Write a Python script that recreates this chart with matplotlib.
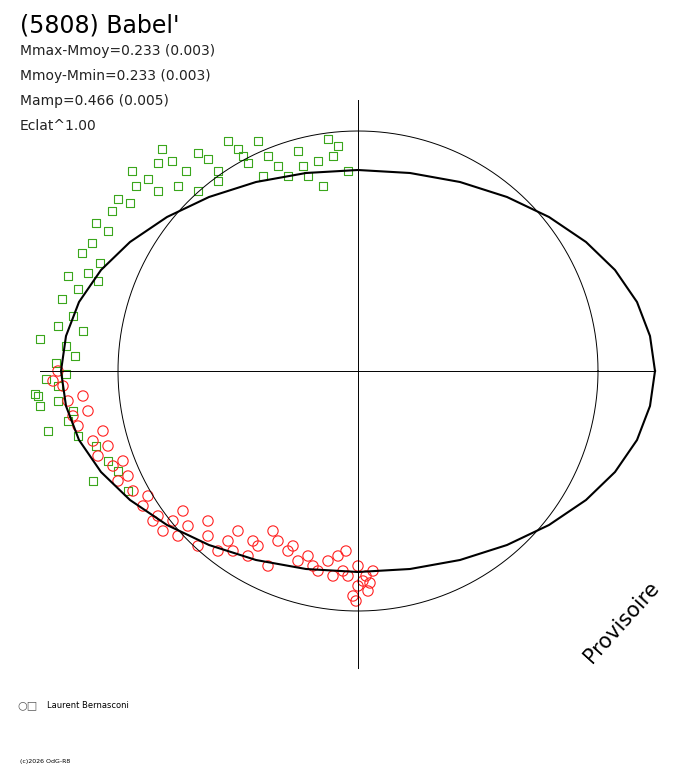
import matplotlib
matplotlib.use("Agg")
import matplotlib.pyplot as plt
import numpy as np

# units: reference circle radius = 240, origin at centre, y up
circle_r = 240
curve_x = [297,292,279,257,228,191,149,102,52,0,-52,-102,-149,-191,-228,-257,-279,-292,
           -297,-292,-279,-257,-228,-191,-149,-102,-52,0,52,102,149,191,228,257,279,292,297]
curve_y = [0,35,69,101,129,154,174,189,198,201,198,189,174,154,129,101,69,35,
           0,-35,-69,-101,-129,-154,-174,-189,-198,-201,-198,-189,-174,-154,-129,-101,-69,-35,0]
green_x = [-318,-323,-300,-312,-292,-302,-283,-318,-292,-300,-285,-275,-296,-280,-290,-270,-276,-266,-258,-262,-250,-246,-240,-228,-222,-226,-210,-200,-196,-186,-172,-160,-150,-140,-130,-120,-110,-100,-90,-80,-60,-50,-40,-30,-20,-10,-35,-70,-140,-160,-180,-200,-260,-320,-310,-290,-280,-262,-250,-265,-240,-230,-285,-300,-25,-55,-95,-115]
green_y = [-35,-23,-15,-8,-3,8,15,32,25,45,55,40,72,82,95,98,118,128,108,148,140,160,172,168,185,200,192,208,222,210,200,218,212,200,230,222,208,230,215,205,220,195,210,232,225,200,185,195,190,180,185,180,90,-25,-60,-50,-65,-75,-90,-110,-100,-120,-40,-30,215,205,195,215]
red_x = [-300,-295,-290,-285,-280,-270,-265,-260,-250,-245,-240,-230,-225,-215,-210,-200,-195,-185,-180,-170,-160,-150,-140,-130,-120,-110,-100,-90,-80,-70,-60,-50,-40,-30,-20,-10,0,5,10,-5,0,15,-15,-25,-45,-65,-85,-105,-125,-150,-175,-205,-235,-255,-275,-305,-12,-2,8,12]
red_y = [0,-15,-30,-45,-55,-40,-70,-85,-75,-95,-110,-105,-120,-135,-125,-145,-160,-150,-165,-155,-175,-165,-180,-170,-160,-185,-175,-195,-170,-180,-190,-185,-200,-190,-185,-205,-195,-210,-220,-225,-215,-200,-200,-205,-195,-175,-160,-170,-180,-150,-140,-150,-90,-60,-25,-10,-180,-230,-205,-212]

fig = plt.figure(figsize=(6.88, 7.68), dpi=100)
ax = fig.add_axes([0, 0, 1, 1])
ax.set_xlim(-358, 330)
ax.set_ylim(-397, 371)
ax.axis("off")

t = np.linspace(0, 2*np.pi, 400)
ax.plot(circle_r*np.cos(t), circle_r*np.sin(t), color="black", lw=0.7)
ax.plot([-318, 297], [0, 0], color="black", lw=0.7)
ax.plot([0, 0], [-297, 271], color="black", lw=0.7)
ax.plot(curve_x, curve_y, color="black", lw=1.5)

ax.scatter(green_x, green_y, marker="s", s=30, facecolors="none", edgecolors="#3aa61c", linewidths=0.8)
ax.scatter(red_x, red_y, marker="o", s=55, facecolors="none", edgecolors="#ff2020", linewidths=0.8)

fig.text(20/688, 1-25/768, "(5808) Babel'", fontsize=17, va="center", ha="left")
for i, s in enumerate(["Mmax-Mmoy=0.233 (0.003)", "Mmoy-Mmin=0.233 (0.003)", "Mamp=0.466 (0.005)", "Eclat^1.00"]):
    fig.text(20/688, 1-(51+25*i)/768, s, fontsize=10, va="center", ha="left", color="#222222")
fig.text(622/688, 1-622/768, "Provisoire", fontsize=15, rotation=48, ha="center", va="center")
fig.text(17/688, 1-705/768, "○□", fontsize=8, va="center", color="#555555")
fig.text(47/688, 1-705/768, "Laurent Bernasconi", fontsize=6, va="center")
fig.text(20/688, 1-762/768, "(c)2026 OdG-R8", fontsize=4.5, va="center")
fig.savefig("out.png", dpi=100)
